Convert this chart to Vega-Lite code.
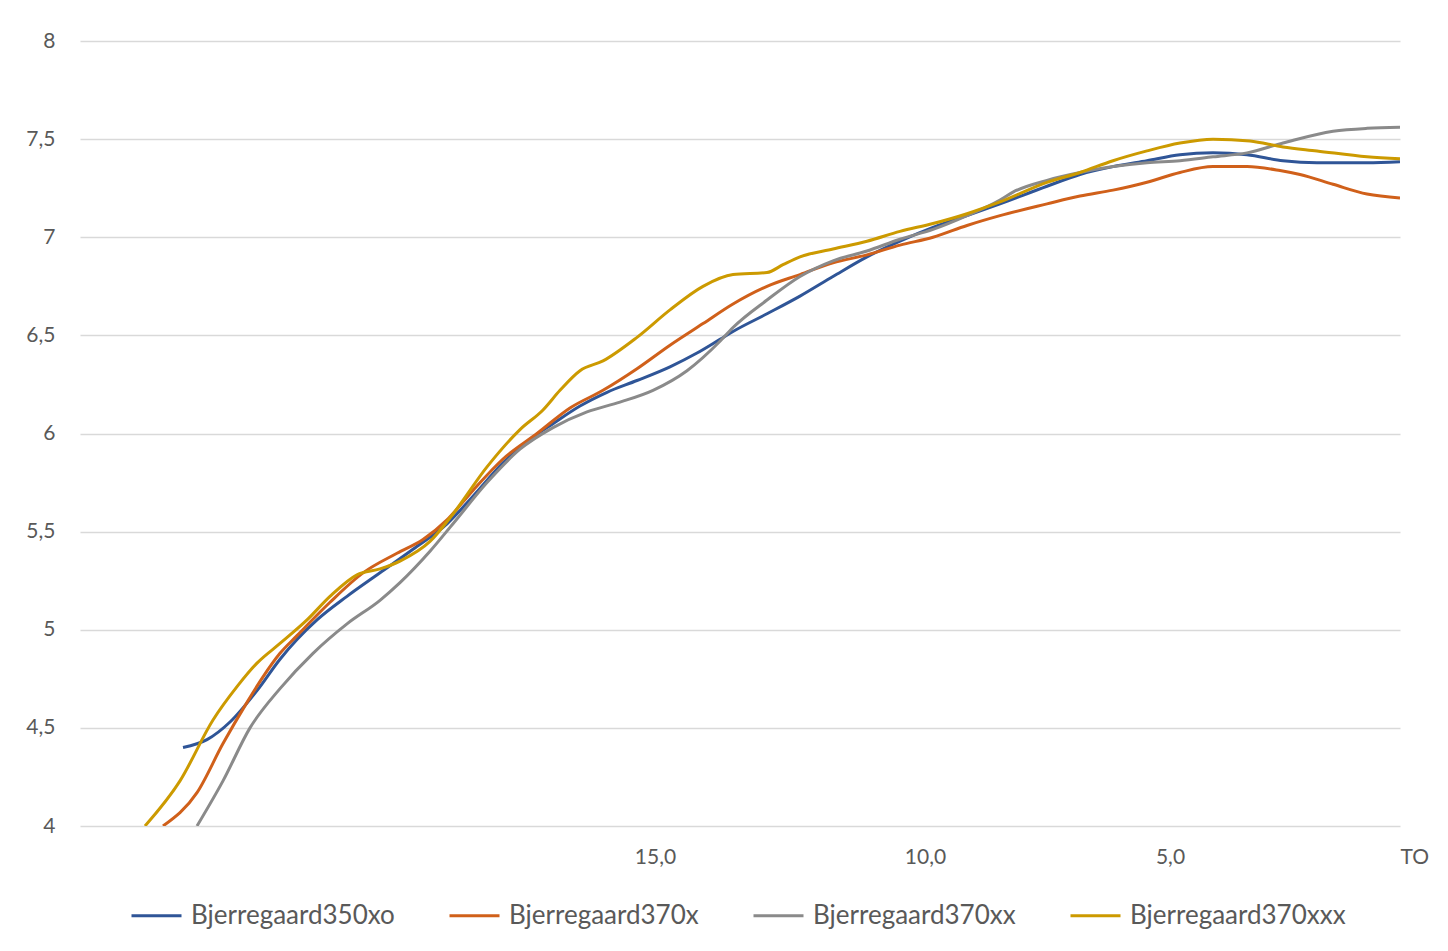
{
  "$schema": "https://vega.github.io/schema/vega-lite/v6.json",
  "autosize": {"type": "none"},
  "width": 1320,
  "height": 785,
  "padding": {"left": 80, "top": 41, "right": 48, "bottom": 125},
  "background": "white",
  "config": {
    "view": {"stroke": null},
    "font": "Lato",
    "axis": {"labelFont": "Lato", "labelColor": "#595959", "labelFontSize": 21, "domain": false, "ticks": false, "title": null},
    "legend": {"labelFont": "Lato", "labelColor": "#595959", "labelFontSize": 26}
  },
  "data": {
    "values": [
      {"s": "Bjerregaard350xo", "pos": 10.3, "v": 4.40},
      {"s": "Bjerregaard350xo", "pos": 12.7, "v": 4.44},
      {"s": "Bjerregaard350xo", "pos": 15.0, "v": 4.53},
      {"s": "Bjerregaard350xo", "pos": 17.7, "v": 4.69},
      {"s": "Bjerregaard350xo", "pos": 20.0, "v": 4.85},
      {"s": "Bjerregaard350xo", "pos": 21.7, "v": 4.95},
      {"s": "Bjerregaard350xo", "pos": 23.7, "v": 5.05},
      {"s": "Bjerregaard350xo", "pos": 26.7, "v": 5.17},
      {"s": "Bjerregaard350xo", "pos": 30.0, "v": 5.29},
      {"s": "Bjerregaard350xo", "pos": 33.3, "v": 5.41},
      {"s": "Bjerregaard350xo", "pos": 36.7, "v": 5.54},
      {"s": "Bjerregaard350xo", "pos": 39.3, "v": 5.68},
      {"s": "Bjerregaard350xo", "pos": 42.3, "v": 5.85},
      {"s": "Bjerregaard350xo", "pos": 45.0, "v": 5.97},
      {"s": "Bjerregaard350xo", "pos": 47.3, "v": 6.05},
      {"s": "Bjerregaard350xo", "pos": 50.0, "v": 6.14},
      {"s": "Bjerregaard350xo", "pos": 52.7, "v": 6.21},
      {"s": "Bjerregaard350xo", "pos": 55.7, "v": 6.27},
      {"s": "Bjerregaard350xo", "pos": 59.0, "v": 6.34},
      {"s": "Bjerregaard350xo", "pos": 61.7, "v": 6.41},
      {"s": "Bjerregaard350xo", "pos": 64.0, "v": 6.48},
      {"s": "Bjerregaard350xo", "pos": 65.3, "v": 6.52},
      {"s": "Bjerregaard350xo", "pos": 68.7, "v": 6.61},
      {"s": "Bjerregaard350xo", "pos": 72.0, "v": 6.70},
      {"s": "Bjerregaard350xo", "pos": 75.3, "v": 6.80},
      {"s": "Bjerregaard350xo", "pos": 78.7, "v": 6.90},
      {"s": "Bjerregaard350xo", "pos": 82.0, "v": 6.98},
      {"s": "Bjerregaard350xo", "pos": 85.3, "v": 7.05},
      {"s": "Bjerregaard350xo", "pos": 88.7, "v": 7.11},
      {"s": "Bjerregaard350xo", "pos": 92.0, "v": 7.17},
      {"s": "Bjerregaard350xo", "pos": 96.7, "v": 7.26},
      {"s": "Bjerregaard350xo", "pos": 100.0, "v": 7.32},
      {"s": "Bjerregaard350xo", "pos": 103.3, "v": 7.36},
      {"s": "Bjerregaard350xo", "pos": 106.7, "v": 7.39},
      {"s": "Bjerregaard350xo", "pos": 110.0, "v": 7.42},
      {"s": "Bjerregaard350xo", "pos": 113.3, "v": 7.43},
      {"s": "Bjerregaard350xo", "pos": 116.7, "v": 7.42},
      {"s": "Bjerregaard350xo", "pos": 120.3, "v": 7.39},
      {"s": "Bjerregaard350xo", "pos": 123.7, "v": 7.38},
      {"s": "Bjerregaard350xo", "pos": 128.7, "v": 7.38},
      {"s": "Bjerregaard350xo", "pos": 132.0, "v": 7.385},

      {"s": "Bjerregaard370x", "pos": 8.3, "v": 4.00},
      {"s": "Bjerregaard370x", "pos": 11.7, "v": 4.17},
      {"s": "Bjerregaard370x", "pos": 14.3, "v": 4.42},
      {"s": "Bjerregaard370x", "pos": 16.7, "v": 4.63},
      {"s": "Bjerregaard370x", "pos": 18.3, "v": 4.76},
      {"s": "Bjerregaard370x", "pos": 20.0, "v": 4.88},
      {"s": "Bjerregaard370x", "pos": 21.7, "v": 4.97},
      {"s": "Bjerregaard370x", "pos": 25.0, "v": 5.14},
      {"s": "Bjerregaard370x", "pos": 28.3, "v": 5.29},
      {"s": "Bjerregaard370x", "pos": 31.7, "v": 5.39},
      {"s": "Bjerregaard370x", "pos": 34.3, "v": 5.46},
      {"s": "Bjerregaard370x", "pos": 36.7, "v": 5.56},
      {"s": "Bjerregaard370x", "pos": 39.3, "v": 5.71},
      {"s": "Bjerregaard370x", "pos": 42.3, "v": 5.87},
      {"s": "Bjerregaard370x", "pos": 45.7, "v": 6.00},
      {"s": "Bjerregaard370x", "pos": 49.0, "v": 6.13},
      {"s": "Bjerregaard370x", "pos": 52.3, "v": 6.22},
      {"s": "Bjerregaard370x", "pos": 55.7, "v": 6.33},
      {"s": "Bjerregaard370x", "pos": 59.0, "v": 6.45},
      {"s": "Bjerregaard370x", "pos": 62.3, "v": 6.56},
      {"s": "Bjerregaard370x", "pos": 65.3, "v": 6.66},
      {"s": "Bjerregaard370x", "pos": 68.7, "v": 6.75},
      {"s": "Bjerregaard370x", "pos": 72.0, "v": 6.81},
      {"s": "Bjerregaard370x", "pos": 75.3, "v": 6.87},
      {"s": "Bjerregaard370x", "pos": 78.7, "v": 6.91},
      {"s": "Bjerregaard370x", "pos": 82.0, "v": 6.96},
      {"s": "Bjerregaard370x", "pos": 85.3, "v": 7.00},
      {"s": "Bjerregaard370x", "pos": 88.7, "v": 7.06},
      {"s": "Bjerregaard370x", "pos": 92.0, "v": 7.11},
      {"s": "Bjerregaard370x", "pos": 96.7, "v": 7.17},
      {"s": "Bjerregaard370x", "pos": 100.0, "v": 7.21},
      {"s": "Bjerregaard370x", "pos": 103.3, "v": 7.24},
      {"s": "Bjerregaard370x", "pos": 106.7, "v": 7.28},
      {"s": "Bjerregaard370x", "pos": 110.0, "v": 7.33},
      {"s": "Bjerregaard370x", "pos": 113.3, "v": 7.36},
      {"s": "Bjerregaard370x", "pos": 116.7, "v": 7.36},
      {"s": "Bjerregaard370x", "pos": 120.0, "v": 7.34},
      {"s": "Bjerregaard370x", "pos": 122.0, "v": 7.32},
      {"s": "Bjerregaard370x", "pos": 125.3, "v": 7.27},
      {"s": "Bjerregaard370x", "pos": 128.7, "v": 7.22},
      {"s": "Bjerregaard370x", "pos": 132.0, "v": 7.20},

      {"s": "Bjerregaard370xx", "pos": 11.7, "v": 4.00},
      {"s": "Bjerregaard370xx", "pos": 14.3, "v": 4.23},
      {"s": "Bjerregaard370xx", "pos": 17.0, "v": 4.50},
      {"s": "Bjerregaard370xx", "pos": 20.0, "v": 4.70},
      {"s": "Bjerregaard370xx", "pos": 23.3, "v": 4.88},
      {"s": "Bjerregaard370xx", "pos": 26.7, "v": 5.03},
      {"s": "Bjerregaard370xx", "pos": 30.0, "v": 5.15},
      {"s": "Bjerregaard370xx", "pos": 32.0, "v": 5.24},
      {"s": "Bjerregaard370xx", "pos": 35.0, "v": 5.40},
      {"s": "Bjerregaard370xx", "pos": 37.3, "v": 5.54},
      {"s": "Bjerregaard370xx", "pos": 40.7, "v": 5.75},
      {"s": "Bjerregaard370xx", "pos": 44.0, "v": 5.92},
      {"s": "Bjerregaard370xx", "pos": 47.3, "v": 6.03},
      {"s": "Bjerregaard370xx", "pos": 50.7, "v": 6.11},
      {"s": "Bjerregaard370xx", "pos": 54.0, "v": 6.16},
      {"s": "Bjerregaard370xx", "pos": 57.3, "v": 6.22},
      {"s": "Bjerregaard370xx", "pos": 60.7, "v": 6.32},
      {"s": "Bjerregaard370xx", "pos": 64.0, "v": 6.47},
      {"s": "Bjerregaard370xx", "pos": 65.3, "v": 6.54},
      {"s": "Bjerregaard370xx", "pos": 68.7, "v": 6.68},
      {"s": "Bjerregaard370xx", "pos": 72.0, "v": 6.80},
      {"s": "Bjerregaard370xx", "pos": 75.3, "v": 6.88},
      {"s": "Bjerregaard370xx", "pos": 78.7, "v": 6.93},
      {"s": "Bjerregaard370xx", "pos": 82.0, "v": 6.99},
      {"s": "Bjerregaard370xx", "pos": 85.3, "v": 7.04},
      {"s": "Bjerregaard370xx", "pos": 88.7, "v": 7.11},
      {"s": "Bjerregaard370xx", "pos": 92.0, "v": 7.19},
      {"s": "Bjerregaard370xx", "pos": 93.3, "v": 7.23},
      {"s": "Bjerregaard370xx", "pos": 96.7, "v": 7.29},
      {"s": "Bjerregaard370xx", "pos": 100.0, "v": 7.33},
      {"s": "Bjerregaard370xx", "pos": 103.3, "v": 7.36},
      {"s": "Bjerregaard370xx", "pos": 106.7, "v": 7.38},
      {"s": "Bjerregaard370xx", "pos": 110.0, "v": 7.39},
      {"s": "Bjerregaard370xx", "pos": 113.3, "v": 7.41},
      {"s": "Bjerregaard370xx", "pos": 116.7, "v": 7.43},
      {"s": "Bjerregaard370xx", "pos": 120.3, "v": 7.48},
      {"s": "Bjerregaard370xx", "pos": 125.3, "v": 7.54},
      {"s": "Bjerregaard370xx", "pos": 128.7, "v": 7.555},
      {"s": "Bjerregaard370xx", "pos": 132.0, "v": 7.56},

      {"s": "Bjerregaard370xxx", "pos": 6.5, "v": 4.00},
      {"s": "Bjerregaard370xxx", "pos": 10.0, "v": 4.23},
      {"s": "Bjerregaard370xxx", "pos": 13.3, "v": 4.54},
      {"s": "Bjerregaard370xxx", "pos": 15.7, "v": 4.71},
      {"s": "Bjerregaard370xxx", "pos": 17.7, "v": 4.83},
      {"s": "Bjerregaard370xxx", "pos": 20.0, "v": 4.93},
      {"s": "Bjerregaard370xxx", "pos": 22.7, "v": 5.05},
      {"s": "Bjerregaard370xxx", "pos": 25.0, "v": 5.17},
      {"s": "Bjerregaard370xxx", "pos": 27.7, "v": 5.28},
      {"s": "Bjerregaard370xxx", "pos": 30.0, "v": 5.31},
      {"s": "Bjerregaard370xxx", "pos": 32.0, "v": 5.35},
      {"s": "Bjerregaard370xxx", "pos": 35.0, "v": 5.45},
      {"s": "Bjerregaard370xxx", "pos": 37.3, "v": 5.59},
      {"s": "Bjerregaard370xxx", "pos": 40.7, "v": 5.83},
      {"s": "Bjerregaard370xxx", "pos": 44.0, "v": 6.02},
      {"s": "Bjerregaard370xxx", "pos": 46.3, "v": 6.12},
      {"s": "Bjerregaard370xxx", "pos": 48.0, "v": 6.22},
      {"s": "Bjerregaard370xxx", "pos": 50.0, "v": 6.32},
      {"s": "Bjerregaard370xxx", "pos": 52.3, "v": 6.37},
      {"s": "Bjerregaard370xxx", "pos": 55.7, "v": 6.49},
      {"s": "Bjerregaard370xxx", "pos": 59.0, "v": 6.63},
      {"s": "Bjerregaard370xxx", "pos": 62.3, "v": 6.75},
      {"s": "Bjerregaard370xxx", "pos": 65.3, "v": 6.81},
      {"s": "Bjerregaard370xxx", "pos": 68.7, "v": 6.82},
      {"s": "Bjerregaard370xxx", "pos": 70.3, "v": 6.86},
      {"s": "Bjerregaard370xxx", "pos": 72.0, "v": 6.90},
      {"s": "Bjerregaard370xxx", "pos": 75.3, "v": 6.94},
      {"s": "Bjerregaard370xxx", "pos": 78.7, "v": 6.98},
      {"s": "Bjerregaard370xxx", "pos": 82.0, "v": 7.03},
      {"s": "Bjerregaard370xxx", "pos": 85.3, "v": 7.07},
      {"s": "Bjerregaard370xxx", "pos": 88.7, "v": 7.12},
      {"s": "Bjerregaard370xxx", "pos": 92.0, "v": 7.18},
      {"s": "Bjerregaard370xxx", "pos": 96.7, "v": 7.28},
      {"s": "Bjerregaard370xxx", "pos": 100.0, "v": 7.33},
      {"s": "Bjerregaard370xxx", "pos": 103.3, "v": 7.39},
      {"s": "Bjerregaard370xxx", "pos": 106.7, "v": 7.44},
      {"s": "Bjerregaard370xxx", "pos": 110.0, "v": 7.48},
      {"s": "Bjerregaard370xxx", "pos": 113.3, "v": 7.50},
      {"s": "Bjerregaard370xxx", "pos": 117.0, "v": 7.49},
      {"s": "Bjerregaard370xxx", "pos": 120.3, "v": 7.46},
      {"s": "Bjerregaard370xxx", "pos": 123.7, "v": 7.44},
      {"s": "Bjerregaard370xxx", "pos": 128.7, "v": 7.41},
      {"s": "Bjerregaard370xxx", "pos": 132.0, "v": 7.40}
    ]
  },
  "mark": {"type": "line", "interpolate": "monotone", "strokeWidth": 3, "clip": true},
  "encoding": {
    "x": {
      "field": "pos",
      "type": "quantitative",
      "scale": {"domain": [0, 132], "nice": false, "zero": false},
      "axis": {
        "values": [57.5, 84.5, 109, 132],
        "labelExpr": "datum.value == 57.5 ? '15,0' : datum.value == 84.5 ? '10,0' : datum.value == 109 ? '5,0' : 'TO'",
        "labelAlign": {"condition": {"test": "datum.value == 132", "value": "left"}, "value": "center"},
        "labelPadding": 20,
        "labelFlush": false,
        "labelBound": false,
        "labelOverlap": false,
        "grid": false
      }
    },
    "y": {
      "field": "v",
      "type": "quantitative",
      "scale": {"domain": [4, 8], "nice": false, "zero": false},
      "axis": {
        "values": [4, 4.5, 5, 5.5, 6, 6.5, 7, 7.5, 8],
        "labelExpr": "replace(format(datum.value, '~g'), '.', ',')",
        "labelPadding": 25,
        "grid": true,
        "gridColor": "#d9d9d9",
        "gridWidth": 1.5
      }
    },
    "color": {
      "field": "s",
      "type": "nominal",
      "scale": {
        "domain": ["Bjerregaard350xo", "Bjerregaard370x", "Bjerregaard370xx", "Bjerregaard370xxx"],
        "range": ["#2F5597", "#D0601A", "#8A8A8A", "#CC9A00"]
      },
      "legend": {
        "title": null,
        "orient": "none",
        "legendX": 50,
        "legendY": 848,
        "direction": "horizontal",
        "symbolType": "stroke",
        "symbolSize": 2500,
        "symbolStrokeWidth": 3,
        "labelOffset": 8,
        "labelLimit": 400,
        "columnPadding": 48
      }
    }
  }
}
